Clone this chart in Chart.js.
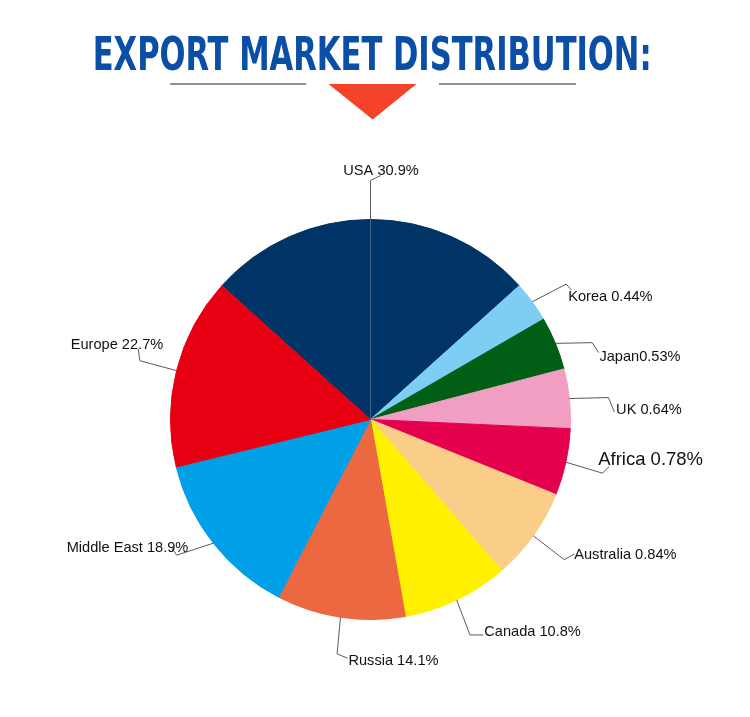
<!DOCTYPE html>
<html>
<head>
<meta charset="utf-8">
<title>Export Market Distribution</title>
<script src="https://cdn.jsdelivr.net/npm/chart.js@4/dist/chart.umd.min.js"></script>
<style>
  html, body { margin: 0; padding: 0; background: #ffffff; }
  canvas { display: block; }
</style>
</head>
<body>
<canvas id="chartCanvas" width="750" height="717"></canvas>
<script>
// slice order runs clockwise from the top
const countries = ['USA', 'Korea', 'Japan', 'UK', 'Africa', 'Australia', 'Canada', 'Russia', 'Middle East', 'Europe'];
const labelTexts = ['USA 30.9%', 'Korea 0.44%', 'Japan0.53%', 'UK 0.64%', 'Africa 0.78%', 'Australia 0.84%', 'Canada 10.8%', 'Russia 14.1%', 'Middle East 18.9%', 'Europe 22.7%'];
// share of the circle each slice takes in the picture (the labels say otherwise)
const sliceShares = [26.7, 3.3, 4.3, 4.8, 5.4, 7.5, 8.6, 10.4, 13.6, 15.5];
const sliceColors = ['#003466', '#7ecef4', '#005e15', '#f09ec2', '#e4004f', '#facd89', '#fff100', '#eb6841', '#00a0e9', '#e60012'];

// leader line bends and label spots, relative to the middle of each slice's rim
const leaderLayout = [
    { elbow: [0, -39], end: [10, -44], text: [10.5, -48.5], align: 'center', inner: true },
    { elbow: [34, -17.7], end: [39.3, -11.7], text: [36, -4.7], align: 'left' },
    { elbow: [36.7, -0.7], end: [43.3, 9.3], text: [44, 13.3], align: 'left' },
    { elbow: [39, -1], end: [45, 13.4], text: [46.7, 11], align: 'left' },
    { elbow: [36.7, 11], end: [43.3, 4.3], text: [32.3, -2.3], align: 'left', size: 18.5 },
    { elbow: [31, 24], end: [41, 18.3], text: [41, 19], align: 'left' },
    { elbow: [13.3, 35], end: [26.6, 35], text: [27.6, 31.7], align: 'left' },
    { elbow: [-3.3, 36.7], end: [7.4, 41], text: [8, 44], align: 'left' },
    { elbow: [-36.7, 12], end: [-41.7, 4.3], text: [-25, 4.3], align: 'right' },
    { elbow: [-36.7, -10], end: [-38.3, -21.7], text: [-13.3, -26], align: 'right' }
];

const headerPlugin = {
    id: 'header',
    afterDraw(chart) {
        const ctx = chart.ctx;
        ctx.save();

        // title, squeezed to the width of the original
        const title = 'EXPORT MARKET DISTRIBUTION:';
        ctx.font = 'bold 46px "Liberation Sans Narrow", "DejaVu Sans Condensed", "Liberation Sans", sans-serif';
        ctx.fillStyle = '#0b4ea6';
        ctx.textBaseline = 'alphabetic';
        ctx.textAlign = 'left';
        const w = ctx.measureText(title).width;
        const sx = 559 / w;
        ctx.translate(92.7, 70);
        ctx.scale(sx, 1);
        ctx.fillText(title, 0, 0);
        ctx.restore();

        ctx.save();
        ctx.strokeStyle = '#6e6e6e';
        ctx.lineWidth = 1.5;
        ctx.beginPath();
        ctx.moveTo(170, 84);
        ctx.lineTo(306, 84);
        ctx.moveTo(439, 84);
        ctx.lineTo(576, 84);
        ctx.stroke();

        ctx.fillStyle = '#f5432a';
        ctx.beginPath();
        ctx.moveTo(328.5, 84);
        ctx.lineTo(416.5, 84);
        ctx.lineTo(372.7, 119.5);
        ctx.closePath();
        ctx.fill();
        ctx.restore();
    }
};

const leaderPlugin = {
    id: 'leaders',
    afterDatasetsDraw(chart) {
        const ctx = chart.ctx;
        const meta = chart.getDatasetMeta(0);
        ctx.save();
        meta.data.forEach((arc, i) => {
            const p = arc.getProps(['x', 'y', 'startAngle', 'endAngle', 'outerRadius'], true);
            const mid = (p.startAngle + p.endAngle) / 2;
            const ax = p.x + Math.cos(mid) * p.outerRadius;
            const ay = p.y + Math.sin(mid) * p.outerRadius;
            const lay = leaderLayout[i];

            if (lay.inner) {
                ctx.strokeStyle = 'rgba(150,160,175,0.45)';
                ctx.lineWidth = 1;
                ctx.beginPath();
                ctx.moveTo(p.x, p.y);
                ctx.lineTo(ax, ay);
                ctx.stroke();
            }

            ctx.strokeStyle = '#5a5a5a';
            ctx.lineWidth = 1;
            ctx.beginPath();
            ctx.moveTo(ax, ay);
            ctx.lineTo(ax + lay.elbow[0], ay + lay.elbow[1]);
            ctx.lineTo(ax + lay.end[0], ay + lay.end[1]);
            ctx.stroke();

            ctx.fillStyle = '#111111';
            ctx.font = (lay.size || 14.6) + 'px "Liberation Sans", Arial, sans-serif';
            ctx.textAlign = lay.align;
            ctx.textBaseline = 'middle';
            ctx.fillText(labelTexts[i], ax + lay.text[0], ay + lay.text[1]);
        });
        ctx.restore();
    }
};

const ctx = document.getElementById('chartCanvas').getContext('2d');
const myChart = new Chart(ctx, {
    type: 'pie',
    data: {
        labels: countries,
        datasets: [{
            data: sliceShares,
            backgroundColor: sliceColors,
            borderColor: sliceColors,
            borderWidth: 1,
            hoverOffset: 0,
            offset: 0
        }]
    },
    options: {
        responsive: false,
        devicePixelRatio: 1,
        animation: false,
        rotation: -48,
        layout: {
            padding: { left: 170, right: 179, top: 219, bottom: 97 }
        },
        plugins: {
            legend: { display: false },
            tooltip: { enabled: false },
            title: { display: false }
        },
        events: []
    },
    plugins: [headerPlugin, leaderPlugin]
});
</script>
</body>
</html>
